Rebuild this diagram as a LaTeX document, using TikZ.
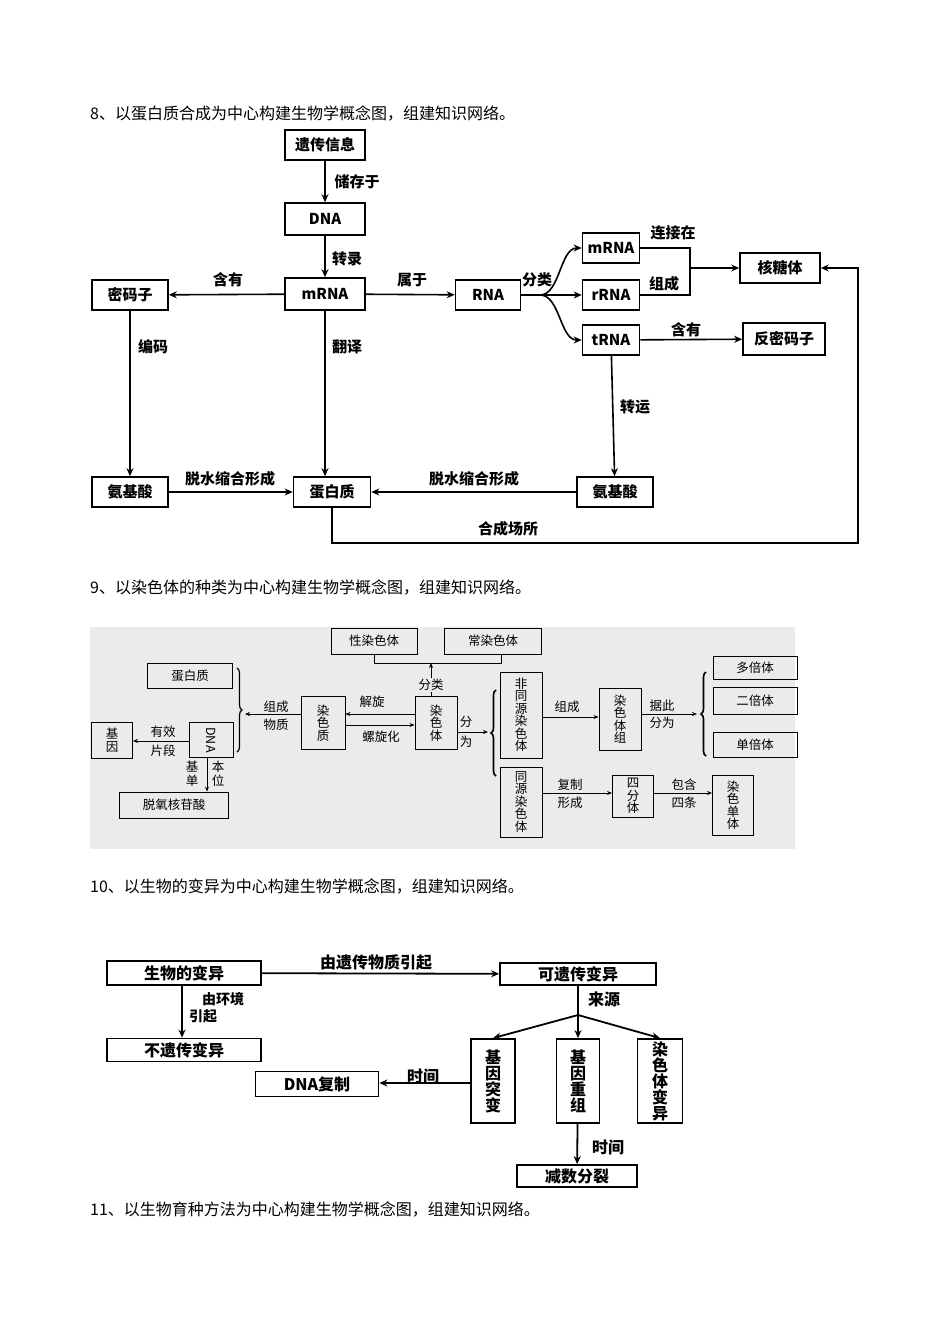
\documentclass[tikz,border=0pt]{standalone}
\usepackage{fontspec}
\setmainfont{Noto Sans CJK SC}
\usetikzlibrary{arrows.meta,decorations.pathreplacing}
\newcommand\myfs[1]{\fontsize{#1}{#1}\selectfont}
\begin{document}
\begin{tikzpicture}[x=1pt,y=-1pt,
 b8/.style={draw,line width=1.6pt,inner sep=0,font=\myfs{15}\bfseries},
 a8/.style={line width=1.6pt,-{Stealth[length=8pt,width=7pt]}},
 l8/.style={line width=1.6pt},
 t8/.style={font=\myfs{15}\bfseries,inner sep=1},
 b9/.style={draw,line width=0.9pt,inner sep=0,font=\myfs{12.5},align=center},
 a9/.style={line width=0.8pt,-{Stealth[length=5pt,width=4pt]}},
 l9/.style={line width=0.8pt},
 t9/.style={font=\myfs{12.5},inner sep=0,align=center},
 br9/.style={line width=1.2pt,decorate,decoration={brace,amplitude=5pt}},
 b10/.style={draw,line width=1.8pt,inner sep=0,font=\myfs{16}\bfseries,align=center},
 a10/.style={line width=1.8pt,-{Stealth[length=8pt,width=7pt]}},
 l10/.style={line width=1.8pt},
 t10/.style={font=\myfs{16}\bfseries,inner sep=0,align=center},
 ti/.style={font=\myfs{16},anchor=west,inner sep=0}]
\useasboundingbox (0,0) rectangle (950,1344);
\fill[white] (0,0) rectangle (950,1344);
% titles
\node[ti] (T8) at (90,113) {8、以蛋白质合成为中心构建生物学概念图，组建知识网络。};
\node[ti] (T9) at (90,587) {9、以染色体的种类为中心构建生物学概念图，组建知识网络。};
\node[ti] (T10) at (90,886) {10、以生物的变异为中心构建生物学概念图，组建知识网络。};
\node[ti] (T11) at (90,1209) {11、以生物育种方法为中心构建生物学概念图，组建知识网络。};
% ===== diagram 8
\node[b8,minimum width=80pt,minimum height=30pt] (yc) at (325,145) {遗传信息};
\node[b8,minimum width=80pt,minimum height=32pt] (dna) at (325,219) {DNA};
\node[b8,minimum width=80pt,minimum height=32pt] (mrna) at (325,294) {mRNA};
\node[b8,minimum width=76pt,minimum height=30pt] (mmz) at (130,295) {密码子};
\node[b8,minimum width=65pt,minimum height=30pt] (rna) at (488,295) {RNA};
\node[b8,minimum width=57pt,minimum height=30pt] (mrna2) at (611,248) {mRNA};
\node[b8,minimum width=57pt,minimum height=30pt] (rrna) at (611,295) {rRNA};
\node[b8,minimum width=57pt,minimum height=30pt] (trna) at (611,340) {tRNA};
\node[b8,minimum width=80pt,minimum height=30pt] (hty) at (780,268) {核糖体};
\node[b8,minimum width=82pt,minimum height=32pt] (fmmz) at (784,339) {反密码子};
\node[b8,minimum width=76pt,minimum height=30pt] (ajs1) at (130,492) {氨基酸};
\node[b8,minimum width=77pt,minimum height=30pt] (dbz) at (332,492) {蛋白质};
\node[b8,minimum width=76pt,minimum height=30pt] (ajs2) at (615,492) {氨基酸};
\draw[a8] (yc) -- (dna);
\draw[a8] (dna) -- (mrna);
\draw[a8] (mrna) -- (mmz);
\draw[a8] (mrna) -- (rna);
\draw[a8] (rna) -- (rrna);
\coordinate (rs) at (540,295);
\draw[a8] (rs) .. controls (560,295) and (560,248) .. (mrna2.west);
\draw[a8] (rs) .. controls (560,295) and (560,340) .. (trna.west);
\coordinate (jn) at (690,268);
\draw[l8] (mrna2.east) -| (jn);
\draw[l8] (rrna.east) -| (jn);
\draw[a8] (jn) -- (hty.west);
\draw[a8] (trna) -- (fmmz);
\draw[a8] (trna) -- (ajs2);
\draw[a8] (mmz) -- (ajs1);
\draw[a8] (mrna) -- (mrna |- dbz.north);
\draw[a8] (ajs1) -- (dbz);
\draw[a8] (ajs2) -- (dbz);
\coordinate (lp1) at (332,543);
\coordinate (lp2) at (858,543);
\draw[a8] (dbz.south) -- (lp1) -- (lp2) |- (hty.east);
\node[t8] (L1) at (357,182) {储存于};
\node[t8] (L2) at (347,259) {转录};
\node[t8] (L3) at (228,280) {含有};
\node[t8] (L4) at (412,280) {属于};
\node[t8] (L5) at (537,280) {分类};
\node[t8] (L6) at (673,233) {连接在};
\node[t8] (L7) at (664,284) {组成};
\node[t8] (L8) at (686,330) {含有};
\node[t8] (L9) at (153,347) {编码};
\node[t8] (L10) at (347,347) {翻译};
\node[t8] (L11) at (635,407) {转运};
\node[t8] (L12) at (230,479) {脱水缩合形成};
\node[t8] (L13) at (474,479) {脱水缩合形成};
\node[t8] (L14) at (508,529) {合成场所};
% ===== diagram 9
\fill[black!8] (90,627) rectangle (795,849);
\node[b9,minimum width=86pt,minimum height=26pt] (xrst) at (374,641) {性染色体};
\node[b9,minimum width=97pt,minimum height=26pt] (crst) at (493,641) {常染色体};
\node[b9,minimum width=85pt,minimum height=25pt] (dbz9) at (190,676) {蛋白质};
\node[b9,minimum width=41pt,minimum height=36pt] (jy) at (112,740) {基\\因};
\node[b9,minimum width=44pt,minimum height=35pt] (dna9) at (211,740) {\rotatebox{-90}{DNA}};
\node[b9,minimum width=109pt,minimum height=26pt] (tyh) at (174,805) {脱氧核苷酸};
\node[b9,minimum width=44pt,minimum height=53pt] (rsz) at (323,723) {染\\色\\质};
\node[b9,minimum width=42pt,minimum height=53pt] (rst) at (436,723) {染\\色\\体};
\node[b9,minimum width=42pt,minimum height=86pt] (ftyrst) at (521,715) {非\\同\\源\\染\\色\\体};
\node[b9,minimum width=42pt,minimum height=70pt] (tyrst) at (521,802) {同\\源\\染\\色\\体};
\node[b9,minimum width=42pt,minimum height=62pt] (rstz) at (620,719) {染\\色\\体\\组};
\node[b9,minimum width=84pt,minimum height=23pt] (dbt) at (755,668) {多倍体};
\node[b9,minimum width=84pt,minimum height=27pt] (ebt) at (755,701) {二倍体};
\node[b9,minimum width=84pt,minimum height=25pt] (dant) at (755,745) {单倍体};
\node[b9,minimum width=41pt,minimum height=42pt] (sft) at (633,796) {四\\分\\体};
\node[b9,minimum width=41pt,minimum height=60pt] (rsdt) at (733,805) {染\\色\\单\\体};
\coordinate (c1) at (374,663);
\coordinate (c2) at (501,663);
\draw[l9] (xrst.south) -- (c1) -- (c2) -- (c2 |- crst.south);
\draw[a9] (rst.north -| 431,0) -- (431,663);
\node[t9,fill=black!8,inner sep=1pt] (M1) at (431,685) {分类};
\draw[br9] (237,668) -- (237,752);
\draw[a9] (rsz.west |- 0,714) -- (245,714);
\node[t9] (M2) at (276,707) {组成};
\node[t9] (M3) at (276,725) {物质};
\draw[a9] (dna9.west |- 0,741) -- (jy.east |- 0,741);
\node[t9] (M4) at (163,732) {有效};
\node[t9] (M5) at (163,751) {片段};
\draw[a9] (207,758) -- (tyh.north -| 207,0);
\node[t9] (M6) at (192,767) {基};
\node[t9] (M7) at (192,781) {单};
\node[t9] (M8) at (218,767) {本};
\node[t9] (M9) at (218,781) {位};
\draw[a9] (rst.west |- 0,714) -- (rsz.east |- 0,714);
\draw[a9] (rsz.east |- 0,725) -- (rst.west |- 0,725);
\node[t9] (M10) at (372,702) {解旋};
\node[t9] (M11) at (381,737) {螺旋化};
\draw[a9] (rst.east |- 0,732) -- (488,732);
\node[t9] (M12) at (466,722) {分};
\node[t9] (M13) at (466,742) {为};
\draw[br9,line width=1.6pt] (496,776) -- (496,690);
\draw[a9] (ftyrst.east |- 0,717) -- (rstz.west |- 0,717);
\node[t9] (M14) at (567,707) {组成};
\draw[a9] (rstz.east |- 0,714) -- (697,714);
\node[t9] (M15) at (662,706) {据此};
\node[t9] (M16) at (662,723) {分为};
\draw[br9,line width=1.6pt] (706,756) -- (706,672);
\draw[a9] (tyrst.east |- 0,793) -- (sft.west |- 0,793);
\node[t9] (M17) at (570,785) {复制};
\node[t9] (M18) at (570,803) {形成};
\draw[a9] (sft.east |- 0,793) -- (rsdt.west |- 0,793);
\node[t9] (M19) at (684,785) {包含};
\node[t9] (M20) at (684,803) {四条};
% ===== diagram 10
\node[b10,minimum width=154pt,minimum height=24pt] (swdby) at (184,973) {生物的变异};
\node[b10,minimum width=156pt,minimum height=22pt] (kyc) at (578,974) {可遗传变异};
\node[b10,minimum width=154pt,minimum height=23pt] (byc) at (184,1050) {不遗传变异};
\node[b10,minimum width=44pt,minimum height=84pt] (jytb) at (493,1081) {基\\因\\突\\变};
\node[b10,minimum width=43pt,minimum height=84pt] (jycz) at (578,1081) {基\\因\\重\\组};
\node[b10,minimum width=45pt,minimum height=84pt] (rstby) at (660,1081) {染\\色\\体\\变\\异};
\node[b10,minimum width=123pt,minimum height=25pt] (dnafz) at (317,1084) {DNA复制};
\node[b10,minimum width=120pt,minimum height=22pt] (jsfl) at (577,1176) {减数分裂};
\draw[a10] (swdby) -- (kyc);
\node[t10] (N1) at (376,962) {由遗传物质引起};
\draw[a10] (swdby.south -| 182,0) -- (byc.north -| 182,0);
\node[t10,font=\myfs{14}\bfseries] (N2) at (223,999) {由环境};
\node[t10,font=\myfs{14}\bfseries,anchor=west] (N3) at (189,1016) {引起};
\coordinate (sp) at (578,1015);
\draw[l10] (kyc) -- (sp);
\node[t10] (N4) at (604,999) {来源};
\draw[a10] (sp) -- (jytb.north);
\draw[a10] (sp) -- (jycz.north);
\draw[a10] (sp) -- (rstby.north);
\draw[a10] (jytb.west |- 0,1083) -- (dnafz.east |- 0,1083);
\node[t10] (N5) at (423,1076) {时间};
\draw[a10] (jycz) -- (jsfl);
\node[t10] (N6) at (608,1147) {时间};
\end{tikzpicture}
\end{document}
